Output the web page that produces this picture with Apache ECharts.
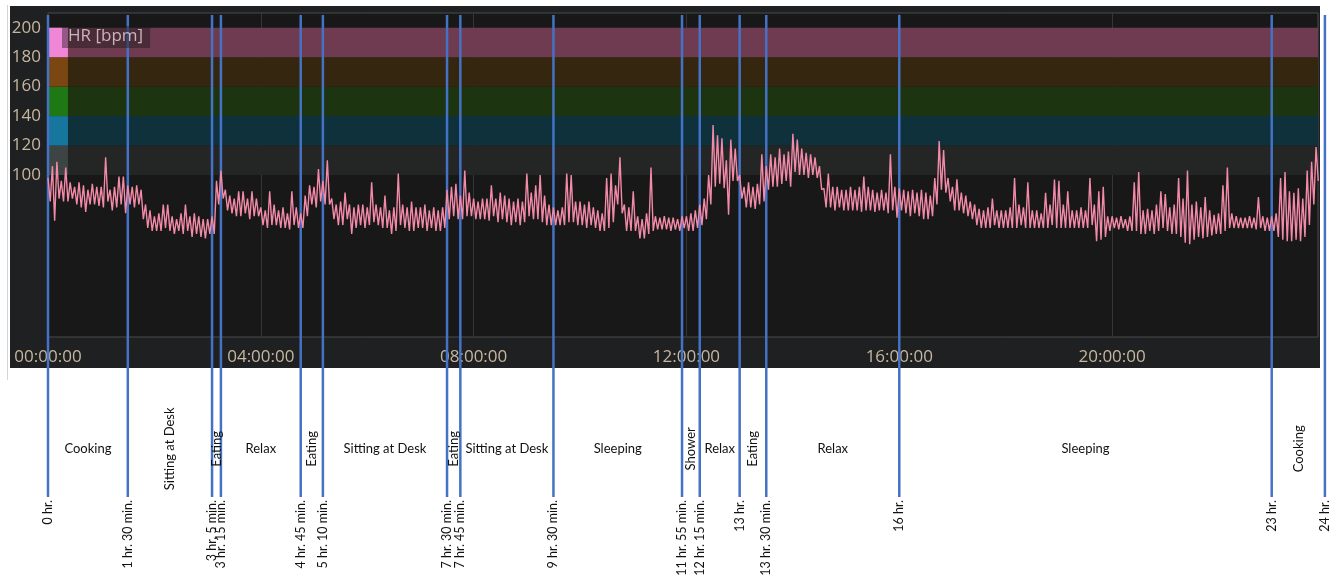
<!DOCTYPE html>
<html>
<head>
    <meta charset="utf-8">
    <title>HR over one day</title>
    <script src="https://cdn.jsdelivr.net/npm/echarts@6/dist/echarts.min.js"></script>
    <style>
        html, body { margin: 0; background: #fff; }
        #chart { width: 1332px; height: 580px; }
    </style>
</head>
<body>
<div id="chart"></div>
<script>
    // heart rate in 5 minute slots from 00:00, highest and lowest reading of each slot
    var hrStepHours = 5 / 60;
    var hrHigh = [
        98, 106, 109, 96, 105, 95, 92, 95, 93, 90, 94, 92,
        92, 112, 90, 92, 99, 99, 93, 92, 93, 90, 80, 76,
        72, 74, 80, 80, 72, 70, 74, 80, 72, 74, 72, 70,
        70, 72, 96, 103, 90, 86, 84, 89, 89, 84, 89, 84,
        78, 76, 89, 80, 76, 78, 74, 89, 78, 74, 86, 93,
        92, 104, 96, 110, 84, 80, 82, 88, 80, 78, 80, 80,
        78, 95, 80, 78, 86, 76, 78, 101, 80, 78, 82, 78,
        78, 80, 76, 78, 76, 78, 90, 92, 94, 86, 103, 88,
        84, 82, 84, 84, 93, 84, 88, 86, 84, 82, 84, 82,
        101, 88, 93, 100, 86, 80, 78, 76, 78, 101, 100, 82,
        82, 80, 82, 78, 76, 74, 98, 101, 93, 112, 80, 78,
        89, 72, 70, 74, 105, 72, 71, 72, 71, 71, 70, 72,
        72, 74, 76, 80, 84, 100, 134, 127, 125, 110, 124, 118,
        100, 92, 95, 92, 94, 114, 106, 114, 112, 118, 114, 116,
        128, 124, 118, 115, 114, 112, 106, 91, 101, 92, 92, 90,
        90, 92, 90, 92, 99, 92, 90, 88, 90, 88, 114, 92,
        91, 90, 89, 90, 88, 90, 88, 86, 98, 123, 117, 98,
        92, 97, 88, 86, 82, 80, 77, 76, 78, 84, 76, 76,
        76, 78, 98, 80, 78, 95, 76, 76, 74, 88, 80, 97,
        96, 80, 89, 76, 76, 78, 76, 98, 80, 89, 92, 72,
        72, 71, 72, 70, 72, 95, 102, 76, 77, 76, 80, 89,
        87, 78, 80, 98, 84, 103, 80, 82, 78, 85, 76, 73,
        74, 93, 105, 74, 72, 71, 71, 72, 71, 85, 72, 71,
        72, 74, 98, 102, 89, 88, 91, 84, 103, 109, 119
    ];
    var hrLow = [
        82, 69, 84, 82, 82, 84, 80, 78, 75, 80, 80, 79,
        78, 82, 76, 78, 80, 74, 80, 78, 80, 70, 64, 62,
        62, 62, 64, 62, 60, 62, 60, 62, 58, 60, 58, 57,
        60, 60, 80, 84, 76, 74, 72, 72, 74, 70, 72, 72,
        66, 64, 66, 66, 64, 64, 63, 66, 64, 64, 72, 80,
        78, 82, 80, 80, 70, 66, 66, 70, 60, 64, 66, 64,
        66, 68, 66, 64, 64, 60, 62, 66, 64, 62, 62, 64,
        64, 62, 64, 62, 62, 64, 70, 72, 70, 70, 72, 72,
        70, 70, 70, 69, 72, 68, 70, 68, 66, 68, 66, 68,
        72, 70, 70, 68, 66, 66, 66, 66, 66, 68, 68, 66,
        66, 64, 66, 64, 62, 62, 64, 68, 80, 74, 62, 62,
        62, 57, 57, 60, 62, 63, 63, 63, 62, 63, 62, 64,
        62, 62, 64, 66, 70, 80, 92, 94, 91, 73, 96, 96,
        84, 78, 78, 77, 80, 82, 90, 92, 92, 94, 96, 92,
        102, 100, 100, 98, 100, 98, 90, 78, 78, 76, 78, 76,
        76, 76, 76, 75, 76, 76, 75, 76, 76, 74, 76, 71,
        76, 74, 72, 74, 72, 70, 70, 72, 80, 90, 88, 82,
        76, 76, 74, 72, 70, 66, 64, 64, 64, 66, 64, 64,
        64, 64, 64, 66, 64, 64, 64, 64, 64, 64, 66, 64,
        64, 64, 64, 64, 64, 64, 64, 66, 55, 56, 58, 62,
        64, 63, 64, 62, 62, 62, 60, 60, 62, 60, 62, 64,
        62, 60, 60, 58, 54, 53, 56, 58, 57, 58, 59, 60,
        60, 62, 64, 64, 64, 64, 64, 64, 63, 64, 62, 62,
        62, 58, 56, 55, 55, 56, 55, 58, 66, 80, 96
    ];

    // heart rate zones (bpm)
    var zoneEdges = [100, 120, 140, 160, 180, 200];
    var zoneColors = ['#242525', '#0f313c', '#1d3410', '#352610', '#6e3b50'];
    var zoneKeyColors = ['#3c4444', '#17769e', '#1e7814', '#7a4612', '#ef86d6'];

    // activity boundaries (hours)
    var markerHours = [0, 1.5, 3 + 5 / 60, 3.25, 4.75, 5 + 10 / 60, 7.5, 7.75, 9.5, 11 + 55 / 60, 12.25, 13, 13.5, 16, 23, 24];

    // [name, start hour, end hour]
    var activities = [
        ['Cooking', 0, 1.5],
        ['Sitting at Desk', 1.5, 3 + 5 / 60],
        ['Eating', 3 + 5 / 60, 3.25],
        ['Relax', 3.25, 4.75],
        ['Eating', 4.75, 5 + 10 / 60],
        ['Sitting at Desk', 5 + 10 / 60, 7.5],
        ['Eating', 7.5, 7.75],
        ['Sitting at Desk', 7.75, 9.5],
        ['Sleeping', 9.5, 11 + 55 / 60],
        ['Shower', 11 + 55 / 60, 12.25],
        ['Relax', 12.25, 13],
        ['Eating', 13, 13.5],
        ['Relax', 13.5, 16],
        ['Sleeping', 16, 23],
        ['Cooking', 23, 24]
    ];
    var verticalActivities = [1, 2, 4, 6, 9, 11, 14];

    var xMax = 23.87;
    var tan = '#c8b69e';

    function hourLabel(h) {
        var whole = Math.floor(h + 1e-6);
        var min = Math.round((h - whole) * 60);
        return whole + ' hr.' + (min ? ' ' + min + ' min.' : '');
    }

    function pad(n) {
        return (n < 10 ? '0' : '') + n;
    }

    var zoneAreas = [];
    for (var i = 0; i < zoneColors.length; i++) {
        zoneAreas.push([{yAxis: zoneEdges[i], itemStyle: {color: zoneColors[i]}}, {yAxis: zoneEdges[i + 1]}]);
        zoneAreas.push([{xAxis: 0, yAxis: zoneEdges[i], itemStyle: {color: zoneKeyColors[i]}}, {xAxis: 0.375, yAxis: zoneEdges[i + 1]}]);
    }

    // high reading at the slot start, low reading half a slot later
    var hrData = [];
    hrHigh.forEach(function (v, i) {
        hrData.push([i * hrStepHours, v]);
        hrData.push([(i + 0.5) * hrStepHours, hrLow[i]]);
    });

    var chart = echarts.init(document.getElementById('chart'));
    var option = {
        animation: false,
        backgroundColor: '#ffffff',
        graphic: [
            {type: 'rect', z: -100, shape: {x: 10, y: 6, width: 1310, height: 362}, style: {fill: '#1e2022'}},
            {type: 'line', z: -100, shape: {x1: 7.5, y1: 5, x2: 7.5, y2: 380}, style: {stroke: '#d4d4d4', lineWidth: 1}}
        ],
        title: {
            text: 'HR [bpm]',
            left: 62,
            top: 26,
            padding: [2, 7, 3, 6],
            backgroundColor: 'rgba(24,24,24,0.42)',
            textStyle: {color: '#c9b4bc', fontSize: 17, fontWeight: 'normal', fontFamily: 'Open Sans'}
        },
        grid: [
            {left: 48, top: 13, width: 1270, height: 324, show: true, backgroundColor: '#181818', borderColor: '#4a4a4a', borderWidth: 1},
            {left: 48, top: 15, width: 1270, height: 482, show: false}
        ],
        xAxis: [
            {
                type: 'value', gridIndex: 0, min: 0, max: xMax, interval: 4,
                axisLine: {show: false}, axisTick: {show: false},
                splitLine: {show: true, lineStyle: {color: '#353535', width: 1}},
                axisLabel: {
                    color: tan, fontSize: 17, fontFamily: 'Open Sans', margin: 12, showMaxLabel: false,
                    formatter: function (v) { return pad(v) + ':00:00'; }
                }
            },
            {type: 'value', gridIndex: 1, min: 0, max: xMax, show: false}
        ],
        yAxis: [
            {
                type: 'value', gridIndex: 0, min: -10, max: 210, interval: 10,
                axisLine: {show: false}, axisTick: {show: false}, splitLine: {show: false},
                axisLabel: {
                    color: tan, fontSize: 17, fontFamily: 'Open Sans', margin: 7,
                    formatter: function (v) { return (v >= 100 && v <= 200 && v % 20 === 0) ? String(v) : ''; }
                }
            },
            {type: 'value', gridIndex: 1, min: 0, max: 1, show: false}
        ],
        series: [
            {
                type: 'line', xAxisIndex: 0, yAxisIndex: 0, data: [],
                markArea: {silent: true, data: zoneAreas}
            },
            {
                name: 'HR [bpm]', type: 'line', xAxisIndex: 0, yAxisIndex: 0,
                data: hrData, showSymbol: false,
                lineStyle: {color: '#f28aa8', width: 1.4},
                itemStyle: {color: '#f28aa8'}
            },
            {
                type: 'custom', xAxisIndex: 1, yAxisIndex: 1, silent: true,
                data: markerHours.map(function (h) { return [h]; }),
                renderItem: function (params, api) {
                    var h = api.value(0);
                    var top = api.coord([h, 1]);
                    var bot = api.coord([h, 0]);
                    return {
                        type: 'group',
                        children: [
                            {type: 'line', shape: {x1: top[0], y1: top[1], x2: bot[0], y2: bot[1]}, style: {stroke: '#4472c4', lineWidth: 2.5}},
                            {
                                type: 'text', x: bot[0], y: bot[1] + 3, rotation: Math.PI / 2,
                                style: {text: hourLabel(h), align: 'right', verticalAlign: 'middle', fill: '#111', fontSize: 12.5, fontFamily: 'Lato'}
                            }
                        ]
                    };
                }
            },
            {
                type: 'custom', xAxisIndex: 1, yAxisIndex: 1, silent: true,
                data: activities.map(function (a) { return [(a[1] + a[2]) / 2, 0.1]; }),
                renderItem: function (params, api) {
                    var p = api.coord([api.value(0), api.value(1)]);
                    var vertical = verticalActivities.indexOf(params.dataIndex) >= 0;
                    return {
                        type: 'text', x: p[0], y: p[1], rotation: vertical ? Math.PI / 2 : 0,
                        style: {text: activities[params.dataIndex][0], align: 'center', verticalAlign: 'middle', fill: '#111', fontSize: 13, fontFamily: 'Lato'}
                    };
                }
            }
        ]
    };
    chart.setOption(option);
</script>
</body>
</html>
